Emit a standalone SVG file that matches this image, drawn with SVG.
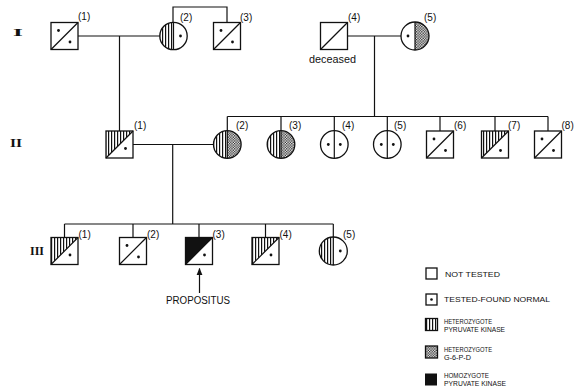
<svg xmlns="http://www.w3.org/2000/svg" width="574" height="389" viewBox="0 0 574 389">
<style>
  .nd { fill: none; stroke: #111; stroke-width: 1.3; }
  .bg { fill: #fff; }
  .ln { fill: none; stroke: #111; stroke-width: 1.2; }
  .dg { stroke: #111; stroke-width: 1.2; }
  .dot { fill: #111; }
  .lb { font-family: "Liberation Sans", Arial, sans-serif; font-size: 10px; fill: #111; }
  .rn { font-family: "Liberation Serif", "Times New Roman", serif; font-weight: bold; fill: #111; }
  .lg { font-family: "Liberation Sans", Arial, sans-serif; font-size: 6.5px; fill: #111; }
  .vs { fill: url(#vstripe); }
  .ck { fill: url(#check); }
</style>
<defs>
  <pattern id="vstripe" patternUnits="userSpaceOnUse" width="3" height="10">
    <rect x="0" y="0" width="1.2" height="10" fill="#111"/>
  </pattern>
  <pattern id="check" patternUnits="userSpaceOnUse" width="2.6" height="2.6">
    <rect x="0" y="0" width="1.3" height="1.3" fill="#222"/>
    <rect x="1.3" y="1.3" width="1.3" height="1.3" fill="#222"/>
  </pattern>
  <marker id="arr" viewBox="0 0 10 10" refX="9" refY="5" markerWidth="6" markerHeight="6" orient="auto">
    <path d="M0,1 L10,5 L0,9 Z" fill="#111"/>
  </marker>
</defs>
<rect width="574" height="389" fill="#fff"/>

<!-- generation numerals -->
<text class="rn" transform="translate(13,36) scale(2.4,1)" font-size="10.5">I</text>
<text class="rn" transform="translate(10,147) scale(1.3,1)" font-size="12">II</text>
<text class="rn" transform="translate(30,255)" font-size="12">III</text>

<!-- connectors -->
<g id="connectors">
  <path class="ln" d="M78,36 H159.8"/>
  <path class="ln" d="M119.5,36 V131"/>
  <path class="ln" d="M173,22.3 V7 H227 V22.5"/>
  <path class="ln" d="M347.5,36 H401"/>
  <path class="ln" d="M374.5,36 V116.5"/>
  <path class="ln" d="M227.3,116.5 H548"/>
  <path class="ln" d="M227.3,116.5 V130.7 M281,116.5 V130.7 M334.3,116.5 V130.7 M387.3,116.5 V130.7 M440,116.5 V131 M495,116.5 V131 M548,116.5 V131"/>
  <path class="ln" d="M133,144.5 H213.5"/>
  <path class="ln" d="M172.7,144.5 V224"/>
  <path class="ln" d="M64.5,224 H333.3"/>
  <path class="ln" d="M64.5,224 V237.5 M133,224 V237.5 M199,224 V237.5 M265.5,224 V237.5 M333.3,224 V237"/>
  <path class="ln" d="M199.5,293 V268.5" marker-end="url(#arr)"/>
</g>

<!-- Generation I -->
<g id="I-1">
  <rect class="nd bg" x="51" y="22.5" width="27" height="27"/>
  <line class="dg" x1="51" y1="49.5" x2="78" y2="22.5"/>
  <circle class="dot" cx="58.5" cy="30.5" r="1.4"/>
  <circle class="dot" cx="70" cy="42" r="1.4"/>
  <text class="lb" x="78" y="20">(1)</text>
</g>
<g id="I-2">
  <circle class="bg" cx="173.5" cy="36" r="13.7"/>
  <path class="vs" d="M173.5,22.3 A13.7,13.7 0 0 0 173.5,49.7 Z"/>
  <line class="dg" x1="173.5" y1="22.3" x2="173.5" y2="49.7"/>
  <circle class="nd" cx="173.5" cy="36" r="13.7"/>
  <circle class="dot" cx="180.5" cy="36" r="1.4"/>
  <text class="lb" x="180" y="21">(2)</text>
</g>
<g id="I-3">
  <rect class="nd bg" x="213.5" y="22.5" width="27" height="27"/>
  <line class="dg" x1="213.5" y1="49.5" x2="240.5" y2="22.5"/>
  <circle class="dot" cx="221" cy="30.5" r="1.4"/>
  <circle class="dot" cx="232.5" cy="42" r="1.4"/>
  <text class="lb" x="240" y="21">(3)</text>
</g>
<g id="I-4">
  <rect class="nd bg" x="320.5" y="22.5" width="27" height="27"/>
  <line class="dg" x1="320.5" y1="49.5" x2="347.5" y2="22.5"/>
  <text class="lb" x="348" y="21">(4)</text>
  <text class="lb" x="309" y="63" textLength="47" lengthAdjust="spacingAndGlyphs">deceased</text>
</g>
<g id="I-5">
  <circle class="bg" cx="415" cy="36" r="14"/>
  <path class="ck" d="M415,22 A14,14 0 0 1 415,50 Z"/>
  <line class="dg" x1="415" y1="22" x2="415" y2="50"/>
  <circle class="nd" cx="415" cy="36" r="14"/>
  <circle class="dot" cx="408" cy="36" r="1.4"/>
  <text class="lb" x="424" y="21">(5)</text>
</g>

<!-- Generation II -->
<g id="II-1">
  <rect class="bg" x="106" y="131" width="27" height="27"/>
  <polygon class="vs" points="106,131 133,131 106,158"/>
  <rect class="nd" x="106" y="131" width="27" height="27"/>
  <line class="dg" x1="106" y1="158" x2="133" y2="131"/>
  <circle class="dot" cx="125.5" cy="148.5" r="1.4"/>
  <text class="lb" x="134" y="129">(1)</text>
</g>
<g id="II-2">
  <circle class="bg" cx="227.3" cy="144.5" r="13.8"/>
  <path class="vs" d="M227.3,130.7 A13.8,13.8 0 0 0 227.3,158.3 Z"/>
  <path class="ck" d="M227.3,130.7 A13.8,13.8 0 0 1 227.3,158.3 Z"/>
  <line class="dg" x1="227.3" y1="130.7" x2="227.3" y2="158.3"/>
  <circle class="nd" cx="227.3" cy="144.5" r="13.8"/>
  <text class="lb" x="236" y="129">(2)</text>
</g>
<g id="II-3">
  <circle class="bg" cx="281" cy="144.5" r="13.8"/>
  <path class="vs" d="M281,130.7 A13.8,13.8 0 0 0 281,158.3 Z"/>
  <path class="ck" d="M281,130.7 A13.8,13.8 0 0 1 281,158.3 Z"/>
  <line class="dg" x1="281" y1="130.7" x2="281" y2="158.3"/>
  <circle class="nd" cx="281" cy="144.5" r="13.8"/>
  <text class="lb" x="289" y="129">(3)</text>
</g>
<g id="II-4">
  <circle class="nd bg" cx="334.3" cy="144.5" r="13.8"/>
  <line class="dg" x1="334.3" y1="130.7" x2="334.3" y2="158.3"/>
  <circle class="dot" cx="328.3" cy="144.5" r="1.4"/>
  <circle class="dot" cx="340.3" cy="144.5" r="1.4"/>
  <text class="lb" x="342" y="129">(4)</text>
</g>
<g id="II-5">
  <circle class="nd bg" cx="387.3" cy="144.5" r="13.8"/>
  <line class="dg" x1="387.3" y1="130.7" x2="387.3" y2="158.3"/>
  <circle class="dot" cx="381.3" cy="144.5" r="1.4"/>
  <circle class="dot" cx="393.3" cy="144.5" r="1.4"/>
  <text class="lb" x="394" y="129">(5)</text>
</g>
<g id="II-6">
  <rect class="nd bg" x="426.5" y="131" width="27" height="27"/>
  <line class="dg" x1="426.5" y1="158" x2="453.5" y2="131"/>
  <circle class="dot" cx="434" cy="139" r="1.4"/>
  <circle class="dot" cx="445.5" cy="150.5" r="1.4"/>
  <text class="lb" x="454" y="129">(6)</text>
</g>
<g id="II-7">
  <rect class="bg" x="481.5" y="131" width="27" height="27"/>
  <polygon class="vs" points="481.5,131 508.5,131 481.5,158"/>
  <rect class="nd" x="481.5" y="131" width="27" height="27"/>
  <line class="dg" x1="481.5" y1="158" x2="508.5" y2="131"/>
  <circle class="dot" cx="500.5" cy="150.5" r="1.4"/>
  <text class="lb" x="508" y="129">(7)</text>
</g>
<g id="II-8">
  <rect class="nd bg" x="534.5" y="131" width="27" height="27"/>
  <line class="dg" x1="534.5" y1="158" x2="561.5" y2="131"/>
  <circle class="dot" cx="542" cy="139" r="1.4"/>
  <circle class="dot" cx="553.5" cy="150.5" r="1.4"/>
  <text class="lb" x="561.5" y="129">(8)</text>
</g>

<!-- Generation III -->
<g id="III-1">
  <rect class="bg" x="51" y="237.5" width="27" height="27"/>
  <polygon class="vs" points="51,237.5 78,237.5 51,264.5"/>
  <rect class="nd" x="51" y="237.5" width="27" height="27"/>
  <line class="dg" x1="51" y1="264.5" x2="78" y2="237.5"/>
  <circle class="dot" cx="70" cy="255" r="1.4"/>
  <text class="lb" x="78.5" y="238">(1)</text>
</g>
<g id="III-2">
  <rect class="nd bg" x="119.5" y="237.5" width="27" height="27"/>
  <line class="dg" x1="119.5" y1="264.5" x2="146.5" y2="237.5"/>
  <circle class="dot" cx="127" cy="245.5" r="1.4"/>
  <circle class="dot" cx="138.5" cy="257" r="1.4"/>
  <text class="lb" x="147" y="238">(2)</text>
</g>
<g id="III-3">
  <rect class="bg" x="185.5" y="237.5" width="27" height="27"/>
  <polygon points="185.5,237.5 212.5,237.5 185.5,264.5" fill="#111"/>
  <rect class="nd" x="185.5" y="237.5" width="27" height="27"/>
  <line class="dg" x1="185.5" y1="264.5" x2="212.5" y2="237.5"/>
  <circle class="dot" cx="204.5" cy="255" r="1.4"/>
  <text class="lb" x="212.5" y="238">(3)</text>
  <text class="lb" x="166" y="304" font-size="9.5" textLength="64" lengthAdjust="spacingAndGlyphs">PROPOSITUS</text>
</g>
<g id="III-4">
  <rect class="bg" x="252" y="237.5" width="27" height="27"/>
  <polygon class="vs" points="252,237.5 279,237.5 252,264.5"/>
  <rect class="nd" x="252" y="237.5" width="27" height="27"/>
  <line class="dg" x1="252" y1="264.5" x2="279" y2="237.5"/>
  <circle class="dot" cx="271" cy="255" r="1.4"/>
  <text class="lb" x="279.5" y="238">(4)</text>
</g>
<g id="III-5">
  <circle class="bg" cx="333.3" cy="251" r="14"/>
  <path class="vs" d="M333.3,237 A14,14 0 0 0 333.3,265 Z"/>
  <line class="dg" x1="333.3" y1="237" x2="333.3" y2="265"/>
  <circle class="nd" cx="333.3" cy="251" r="14"/>
  <circle class="dot" cx="340.3" cy="251" r="1.4"/>
  <text class="lb" x="343" y="238">(5)</text>
</g>

<!-- Legend -->
<g id="legend">
  <rect class="nd" x="426" y="268" width="11" height="11" stroke-width="1.1"/>
  <text class="lg" x="445" y="276.5" font-size="7.5" textLength="55" lengthAdjust="spacingAndGlyphs">NOT TESTED</text>
  <rect class="nd" x="426" y="294" width="11" height="11" stroke-width="1.1"/>
  <circle class="dot" cx="431.5" cy="299.5" r="1.3"/>
  <text class="lg" x="444" y="302" font-size="7.5" textLength="106" lengthAdjust="spacingAndGlyphs">TESTED-FOUND NORMAL</text>
  <rect class="vs" x="425.5" y="318.5" width="12" height="12"/>
  <rect class="nd" x="425.5" y="318.5" width="12" height="12" stroke-width="1"/>
  <text class="lg" x="444" y="323.5" textLength="48" lengthAdjust="spacingAndGlyphs">HETEROZYGOTE</text>
  <text class="lg" x="444" y="331.5" textLength="61" lengthAdjust="spacingAndGlyphs">PYRUVATE KINASE</text>
  <rect class="ck" x="425.5" y="346" width="12" height="12"/>
  <rect class="nd" x="425.5" y="346" width="12" height="12" stroke-width="0.8"/>
  <text class="lg" x="444" y="351.5" textLength="48" lengthAdjust="spacingAndGlyphs">HETEROZYGOTE</text>
  <text class="lg" x="444" y="359.5" textLength="27" lengthAdjust="spacingAndGlyphs">G-6-P-D</text>
  <rect x="425" y="373.5" width="12" height="12" fill="#111"/>
  <text class="lg" x="444" y="377.7" textLength="45" lengthAdjust="spacingAndGlyphs">HOMOZYGOTE</text>
  <text class="lg" x="444" y="385.7" textLength="62" lengthAdjust="spacingAndGlyphs">PYRUVATE KINASE</text>
</g>
</svg>
